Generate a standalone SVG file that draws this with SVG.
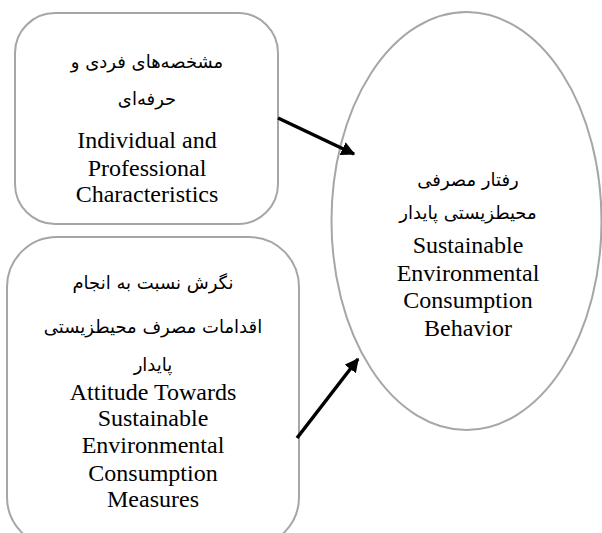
<svg xmlns="http://www.w3.org/2000/svg" width="602" height="533" viewBox="0 0 602 533">
<style>
.box{fill:#fff;stroke:#a6a6a6;stroke-width:2}
.en{font-family:"Liberation Serif","Times New Roman",serif;font-size:24px;fill:#000;text-anchor:middle}
.fa{font-family:"DejaVu Sans","Noto Sans",sans-serif;font-size:18px;fill:#000;text-anchor:middle;direction:rtl}
.arr{stroke:#000;stroke-width:3.5;fill:none;marker-end:url(#ah)}
</style>
<defs>
<marker id="ah" viewBox="0 0 10 10" refX="9" refY="5" markerWidth="4" markerHeight="4" orient="auto" markerUnits="strokeWidth">
<path d="M0,0 L10,5 L0,10 z" fill="#000"/>
</marker>
</defs>
<rect width="602" height="533" fill="#fff"/>
<g id="node-individual">
<rect class="box" x="15" y="13" width="263" height="211" rx="40" ry="40"/>
<text class="fa" x="147" y="68">مشخصه‌های فردی و</text>
<text class="fa" x="147" y="105">حرفه‌ای</text>
<text class="en" x="147" y="148">Individual and</text>
<text class="en" x="147" y="176">Professional</text>
<text class="en" x="147" y="202">Characteristics</text>
</g>
<g id="node-attitude">
<rect class="box" x="7" y="237" width="292" height="310" rx="50" ry="50"/>
<text class="fa" x="153" y="289">نگرش نسبت به انجام</text>
<text class="fa" x="153" y="333">اقدامات مصرف محیطزیستی</text>
<text class="fa" x="153" y="371">پایدار</text>
<text class="en" x="153" y="400">Attitude Towards</text>
<text class="en" x="153" y="426">Sustainable</text>
<text class="en" x="153" y="453">Environmental</text>
<text class="en" x="153" y="481">Consumption</text>
<text class="en" x="153" y="507">Measures</text>
</g>
<g id="node-behavior">
<ellipse class="box" cx="466.5" cy="221" rx="135" ry="209"/>
<text class="fa" x="468" y="186">رفتار مصرفی</text>
<text class="fa" x="468" y="219">محیطزیستی پایدار</text>
<text class="en" x="468" y="253">Sustainable</text>
<text class="en" x="468" y="281">Environmental</text>
<text class="en" x="468" y="308">Consumption</text>
<text class="en" x="468" y="336">Behavior</text>
</g>
<g id="connectors">
<line class="arr" x1="278" y1="118" x2="354" y2="154"/>
<line class="arr" x1="297" y1="438" x2="358" y2="359"/>
</g>
</svg>
